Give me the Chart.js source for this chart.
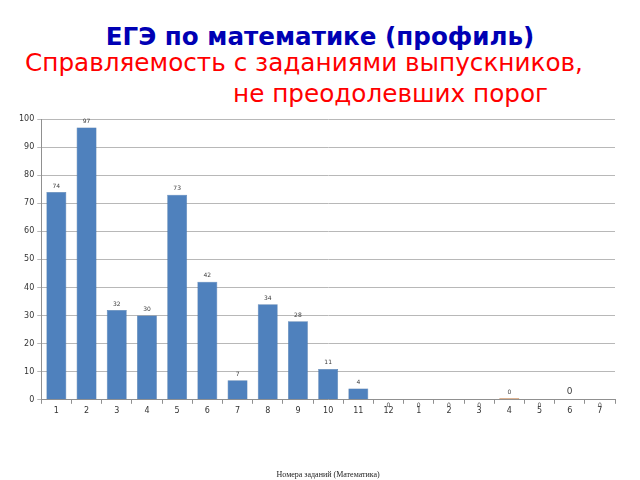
<!DOCTYPE html>
<html>
<head>
<meta charset="utf-8">
<script src="https://cdn.jsdelivr.net/npm/chart.js@4/dist/chart.umd.min.js"></script>
<style>
  body { margin: 0; width: 640px; height: 480px; background: #fff; position: relative; overflow: hidden; font-family: "DejaVu Sans", sans-serif; }
  .t1 { position: absolute; left: 0; width: 640px; top: 22px; text-align: center; color: #0000b4; font-weight: bold; font-size: 24.6px; }
  .t2 { position: absolute; left: 25px; top: 48px; color: #ff0000; font-size: 24.7px; white-space: nowrap; }
  .t3 { position: absolute; left: 233px; top: 79px; color: #ff0000; font-size: 24.7px; white-space: nowrap; }
  #wrap { position: absolute; left: 0; top: 110px; width: 640px; height: 370px; }
</style>
</head>
<body>
<div class="t1">ЕГЭ по математике (профиль)</div>
<div class="t2">Справляемость с заданиями выпускников,</div>
<div class="t3">не преодолевших порог</div>
<div id="wrap"><canvas id="chart"></canvas></div>
<script>
// Номера заданий: 12 заданий части 1, затем 7 заданий части 2
const zadaniya = ["1","2","3","4","5","6","7","8","9","10","11","12","1","2","3","4","5","6","7"];
// Процент выполнения
const procent = [74, 97, 32, 30, 73, 42, 7, 34, 28, 11, 4, 0, 0, 0, 0, 0.6, 0, 0, 0];
const yTicks = [0, 10, 20, 30, 40, 50, 60, 70, 80, 90, 100];

const barColors = procent.map((v, i) => (i === 15 ? "#d8a47a" : "#4f81bd"));

// Подписи значений над столбцами
const valueLabels = {
  id: "valueLabels",
  afterDatasetsDraw(chart) {
    const ctx = chart.ctx;
    const meta = chart.getDatasetMeta(0);
    const yScale = chart.scales.y;
    ctx.save();
    ctx.fillStyle = "#404040";
    ctx.textAlign = "center";
    meta.data.forEach((bar, i) => {
      const v = Math.floor(procent[i]);
      let y = bar.y - 3;
      let size = 6;
      if (procent[i] === 0 && i !== 17) {
        y = yScale.bottom + 9; // нули уходят под ось
      }
      if (i === 17) { size = 9; y = yScale.bottom - 4; }
      ctx.font = size + "px 'DejaVu Sans'";
      ctx.textBaseline = "bottom";
      ctx.fillText(String(v), bar.x, y);
    });
    ctx.restore();
  },
};

new Chart(document.getElementById("chart").getContext("2d"), {
  type: "bar",
  data: {
    labels: zadaniya,
    datasets: [
      {
        data: procent,
        backgroundColor: barColors,
        borderColor: barColors.map((c) => (c === "#4f81bd" ? "#3e6a9e" : "#c88a5a")),
        borderWidth: 0.5,
        barPercentage: 0.66,
        categoryPercentage: 1,
      },
    ],
  },
  options: {
    responsive: true,
    maintainAspectRatio: false,
    animation: false,
    layout: { padding: { left: 16, right: 25, top: 9, bottom: 0 } },
    plugins: { legend: { display: false }, tooltip: { enabled: false } },
    scales: {
      x: {
        grid: { drawOnChartArea: false, tickLength: 4, color: "#909090" },
        border: { color: "#909090" },
        ticks: { color: "#333", font: { family: "DejaVu Sans", size: 8 }, padding: 2, maxRotation: 0, autoSkip: false },
        title: {
          display: true,
          text: "Номера заданий (Математика)",
          color: "#222",
          font: { family: "Liberation Serif", size: 8 },
          padding: { top: 53, bottom: 0 },
        },
      },
      y: {
        min: 0,
        max: 100,
        afterBuildTicks(axis) { axis.ticks = yTicks.map((v) => ({ value: v })); },
        grid: { color: "#b8b8b8", tickLength: 4 },
        border: { color: "#909090" },
        ticks: { color: "#333", font: { family: "DejaVu Sans", size: 8 }, padding: 3 },
      },
    },
  },
  plugins: [valueLabels],
});
</script>
</body>
</html>
